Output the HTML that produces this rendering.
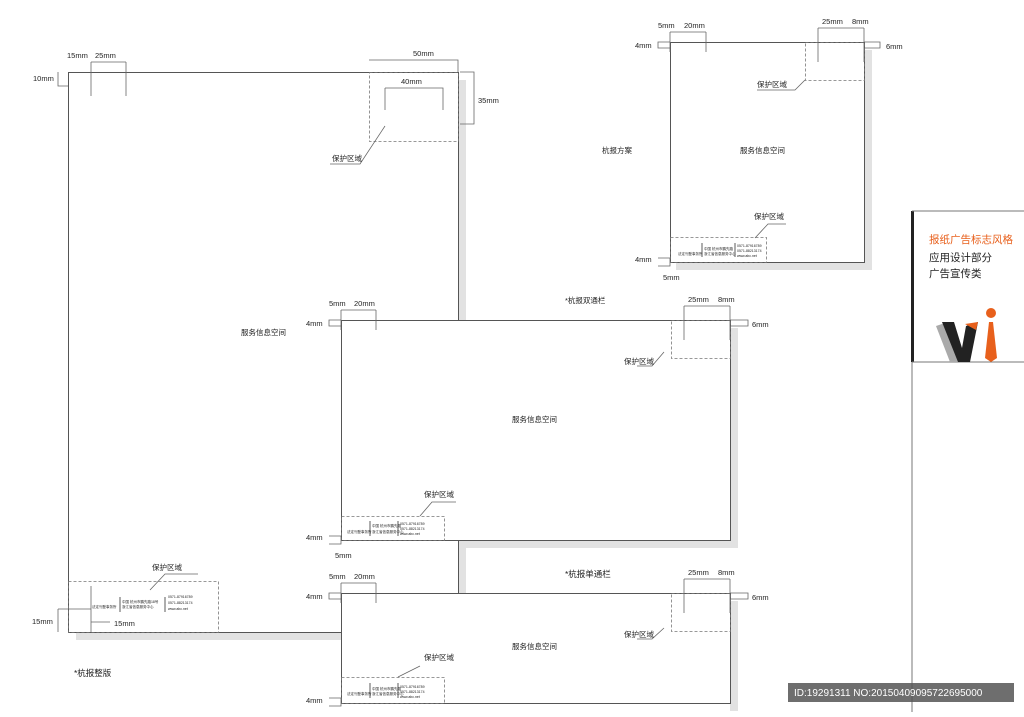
<!DOCTYPE html>
<html><head><meta charset="utf-8"><style>
body{margin:0;width:1024px;height:712px;background:#fff;overflow:hidden}
svg text{font-family:"Liberation Sans","Noto Sans CJK SC",sans-serif;fill:#222}
</style></head><body>
<svg width="1024" height="712" viewBox="0 0 1024 712" xmlns="http://www.w3.org/2000/svg">
<g fill="#e2e2e2">
<rect x="458" y="80" width="8" height="560"/><rect x="76" y="632" width="390" height="8"/>
<rect x="864" y="50" width="8" height="220"/><rect x="676" y="262" width="196" height="8"/>
<rect x="730" y="328" width="8" height="220"/><rect x="347" y="540" width="391" height="8"/>
<rect x="730" y="601" width="8" height="110"/>
</g>
<g fill="#fff" stroke="#555" stroke-width="1">
<rect x="68.5" y="72.5" width="390" height="560"/>
<rect x="670.5" y="42.5" width="194" height="220"/>
<rect x="341.5" y="320.5" width="389" height="220"/>
<rect x="341.5" y="593.5" width="389" height="110"/>
</g>
<g fill="none" stroke="#777" stroke-width="0.8" stroke-dasharray="3,2">
<rect x="369.5" y="72.5" width="89" height="69"/>
<rect x="68.5" y="581.5" width="150" height="51"/>
<rect x="805.5" y="42.5" width="59" height="38"/>
<rect x="670.5" y="237.5" width="96" height="25"/>
<rect x="671.5" y="320.5" width="59" height="38"/>
<rect x="341.5" y="516.5" width="103" height="24"/>
<rect x="671.5" y="593.5" width="59" height="38"/>
<rect x="341.5" y="677.5" width="103" height="26"/>
</g>
<g fill="none" stroke="#666" stroke-width="0.8">
<path d="M91 62V96M126 62V96M91 62H126M58 72V86H68"/>
<path d="M369 60H458V72M385 88H443V110M385 88V110M460 72H474V124H460"/>
<path d="M58 609V632M58 609H91V632M91 622H110M91 586V632"/>
<path d="M330 164H360L385 126M757 90H795L805 80M755 238L768 224H786M637 366H652L664 352M420 516L432 502H456M637 639H652L664 628M398 677L420 666M150 590L165 574H198"/>
<path d="M670 32V52M706 32V52M670 32H706M658 42H670V48H658Z"/>
<path d="M818 28V62M864 28V62M818 28H864M864 42H880V48H864M658 258H670V266H658"/>
<path d="M341 310V330M376 310V330M341 310H376M329 320H341V326H329Z"/>
<path d="M684 306V340M730 306V340M684 306H730M730 320H748V326H730M329 536H341V544H329"/>
<path d="M341 583V603M376 583V603M341 583H376M329 593H341V599H329Z"/>
<path d="M684 579V613M730 579V613M684 579H730M730 593H748V599H730M329 698H341V706H329"/>
</g>
<g stroke="#333" stroke-width="0.8">
<path d="M120 597V612M165 597V612M702 243V257M735 243V257M370 521V536M398 521V536M370 683V698M398 683V698"/>
</g>
<g font-size="7.5">
<text x="67" y="58">15mm</text><text x="95" y="58">25mm</text><text x="33" y="81">10mm</text>
<text x="413" y="56">50mm</text><text x="401" y="84">40mm</text><text x="478" y="103">35mm</text>
<text x="332" y="161">保护区域</text><text x="241" y="335">服务信息空间</text>
<text x="152" y="570">保护区域</text><text x="32" y="624">15mm</text><text x="114" y="626">15mm</text>
<text x="74" y="676" font-size="8.5">*杭报整版</text>
<text x="658" y="28">5mm</text><text x="684" y="28">20mm</text><text x="822" y="24">25mm</text><text x="852" y="24">8mm</text>
<text x="635" y="48">4mm</text><text x="886" y="49">6mm</text><text x="757" y="87">保护区域</text>
<text x="602" y="153">杭报方案</text><text x="740" y="153">服务信息空间</text><text x="754" y="219">保护区域</text>
<text x="635" y="262">4mm</text><text x="663" y="280">5mm</text>
<text x="329" y="306">5mm</text><text x="354" y="306">20mm</text><text x="565" y="303">*杭报双通栏</text>
<text x="688" y="302">25mm</text><text x="718" y="302">8mm</text><text x="306" y="326">4mm</text><text x="752" y="327">6mm</text>
<text x="624" y="364">保护区域</text><text x="512" y="422">服务信息空间</text><text x="424" y="497">保护区域</text>
<text x="306" y="540">4mm</text><text x="335" y="558">5mm</text>
<text x="329" y="579">5mm</text><text x="354" y="579">20mm</text><text x="565" y="577" font-size="8.5">*杭报单通栏</text>
<text x="688" y="575">25mm</text><text x="718" y="575">8mm</text><text x="306" y="599">4mm</text><text x="752" y="600">6mm</text>
<text x="624" y="637">保护区域</text><text x="512" y="649">服务信息空间</text><text x="424" y="660">保护区域</text>
<text x="306" y="703">4mm</text>
</g>
<g font-size="3.5" fill="#333">
<text x="92" y="608">法定刊登事务所</text><text x="122" y="603">中国 杭州市鹏先路18号</text><text x="122" y="608">浙江省信息服务中心</text><text x="168" y="598">0571-87916789</text><text x="168" y="604">0571-88213174</text><text x="168" y="610">www.abc.net</text>
<text x="678" y="255">法定刊登事务所</text><text x="704" y="250">中国 杭州市鹏先路</text><text x="704" y="255">浙江省信息服务中心</text><text x="737" y="247">0571-87916789</text><text x="737" y="252">0571-88213174</text><text x="737" y="257">www.abc.net</text>
<text x="347" y="533">法定刊登事务所</text><text x="372" y="527">中国 杭州市鹏先路</text><text x="372" y="533">浙江省信息服务中心</text><text x="400" y="525">0571-87916789</text><text x="400" y="530">0571-88213174</text><text x="400" y="535">www.abc.net</text>
<text x="347" y="695">法定刊登事务所</text><text x="372" y="690">中国 杭州市鹏先路</text><text x="372" y="695">浙江省信息服务中心</text><text x="400" y="688">0571-87916789</text><text x="400" y="693">0571-88213174</text><text x="400" y="698">www.abc.net</text>
</g>
<rect x="911" y="211" width="3" height="151" fill="#222"/>
<path d="M912 211H1024M912 362H1024M912 362V712" stroke="#777" stroke-width="1" fill="none"/>
<text x="929" y="243" font-size="10.5" style="fill:#e8601c">报纸广告标志风格</text>
<text x="929" y="261" font-size="10.5">应用设计部分</text>
<text x="929" y="277" font-size="10.5">广告宣传类</text>
<polygon points="936,326 948,322 962,362 950,362" fill="#aaa"/>
<polygon points="942,322 954,322 962,348 966,326 978,322 970,362 958,362" fill="#222"/>
<polygon points="965,324 978,322 976,330" fill="#e8601c"/>
<circle cx="991" cy="313" r="5" fill="#e8601c"/>
<polygon points="989,322 993,322 997,358 991,362 985,358" fill="#e8601c"/>
<rect x="788" y="683" width="226" height="19" fill="#555" opacity="0.85"/>
<text x="794" y="696" font-size="10" style="fill:#fff">ID:19291311 NO:20150409095722695000</text>
</svg>
</body></html>
